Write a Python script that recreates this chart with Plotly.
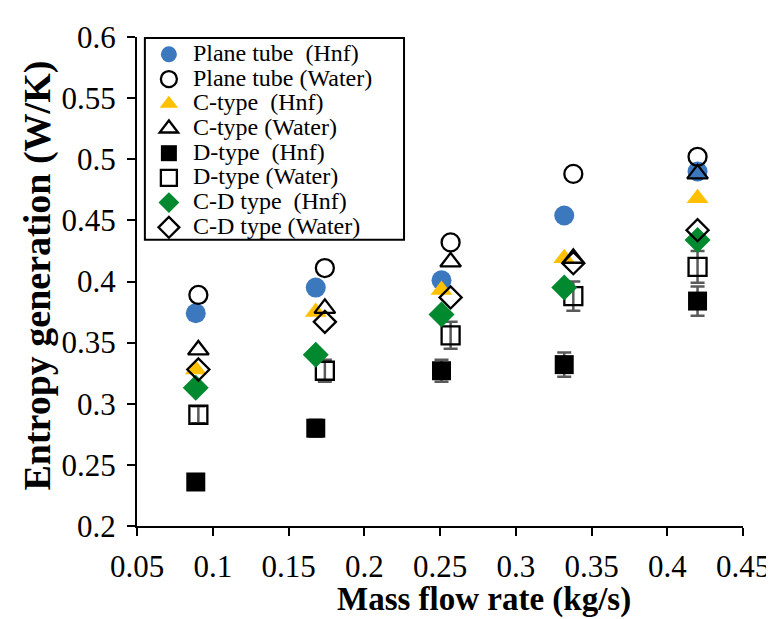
import plotly.graph_objects as go

# mass flow rates (kg/s)
x_hnf = [0.0888, 0.168, 0.251, 0.332, 0.420]
x_water = [0.0905, 0.174, 0.257, 0.338, 0.420]

plane_hnf = [0.374, 0.395, 0.401, 0.454, 0.490]
plane_water = [0.389, 0.411, 0.432, 0.488, 0.502]
c_hnf = [0.328, 0.375, 0.393, 0.419, 0.468]
c_water = [0.344, 0.378, 0.416, 0.419, 0.488]
d_hnf = [0.236, 0.280, 0.327, 0.332, 0.384]
d_water = [0.291, 0.327, 0.356, 0.388, 0.412]
cd_hnf = [0.313, 0.340, 0.373, 0.395, 0.434]
cd_water = [0.328, 0.367, 0.387, 0.415, 0.442]

d_hnf_err = [0.004, 0.007, 0.009, 0.010, 0.012]
d_water_err = [0.007, 0.009, 0.011, 0.012, 0.013]

x_ticks = [0.05, 0.1, 0.15, 0.2, 0.25, 0.3, 0.35, 0.4, 0.45]
y_ticks = [0.2, 0.25, 0.3, 0.35, 0.4, 0.45, 0.5, 0.55, 0.6]

NB = "\u00a0"
series = [
    ("Plane tube" + NB + NB + "(Hnf)", x_hnf, plane_hnf, "circle", "#3C78BE", None, 20),
    ("Plane tube (Water)", x_water, plane_water, "circle-open", "black", None, 18),
    ("C-type" + NB + NB + "(Hnf)", x_hnf, c_hnf, "triangle-up", "#FFC000", None, 19),
    ("C-type (Water)", x_water, c_water, "triangle-up-open", "black", None, 18),
    ("D-type" + NB + NB + "(Hnf)", x_hnf, d_hnf, "square", "black", d_hnf_err, 19),
    ("D-type (Water)", x_water, d_water, "square-open", "black", d_water_err, 18),
    ("C-D type" + NB + NB + "(Hnf)", x_hnf, cd_hnf, "diamond", "#00892F", None, 20),
    ("C-D type (Water)", x_water, cd_water, "diamond-open", "black", None, 17),
]

FONT = "Liberation Serif"
fig = go.Figure()
for name, xs, ys, sym, col, err, size in series:
    open_ = sym.endswith("open")
    tr = dict(
        x=xs, y=ys, mode="markers",
        name='<span style="font-size:24px">' + name + "</span>",
        marker=dict(symbol=sym, size=size, color=col,
                    line=dict(color="black", width=2.3) if open_ else dict(width=0)),
    )
    if err is not None:
        tr["error_y"] = dict(type="data", array=err, visible=True,
                             color="#5A5A5A", thickness=2.5, width=7)
    fig.add_trace(go.Scatter(**tr))

L, R, T, B = 129, 30, 19, 101
PW, PH = 774 - L - R, 619 - T - B


def px_x(p):
    return (p - L) / PW


def px_y(p):
    return (619 - B - p) / PH


fig.update_layout(
    width=774, height=619,
    margin=dict(l=L, r=R, t=T, b=B),
    paper_bgcolor="white", plot_bgcolor="white",
    font=dict(family=FONT, color="black"),
    showlegend=True,
    legend=dict(
        x=px_x(137), y=1.0, xanchor="left", yanchor="top",
        borderwidth=0, bgcolor="rgba(0,0,0,0)",
        font=dict(size=16.7, family=FONT, color="black"),
        itemwidth=38,
    ),
    shapes=[
        dict(type="rect", xref="paper", yref="paper",
             x0=px_x(137), x1=px_x(400), y0=px_y(226), y1=px_y(20),
             line=dict(color="black", width=2), fillcolor="white", layer="below"),
    ],
    xaxis=dict(
        range=[0.05, 0.45], tickvals=x_ticks, ticktext=[str(v) for v in x_ticks],
        showline=True, linecolor="black", linewidth=2,
        ticks="outside", ticklen=8, tickwidth=2, tickcolor="black",
        showgrid=False, zeroline=False,
        tickfont=dict(size=31, family=FONT, color="black"),
        ticklabelstandoff=4, ticklabeloverflow="allow",
    ),
    yaxis=dict(
        range=[0.2, 0.6], tickvals=y_ticks, ticktext=[str(v) for v in y_ticks],
        showline=True, linecolor="black", linewidth=2,
        ticks="outside", ticklen=8, tickwidth=2, tickcolor="black",
        showgrid=False, zeroline=False,
        tickfont=dict(size=31, family=FONT, color="black"),
        ticklabelstandoff=5, ticklabeloverflow="allow",
    ),
    annotations=[
        dict(text="<b>Mass flow rate (kg/s)</b>", xref="paper", yref="paper",
             x=px_x(481), y=px_y(593), xanchor="center", yanchor="middle", showarrow=False,
             font=dict(size=33, family=FONT, color="black")),
        dict(text="<b>Entropy generation (W/K)</b>", xref="paper", yref="paper",
             x=px_x(28), y=px_y(262), xanchor="center", yanchor="middle", showarrow=False,
             textangle=-90, font=dict(size=38, family=FONT, color="black")),
    ],
)

fig.write_html("out.html")
